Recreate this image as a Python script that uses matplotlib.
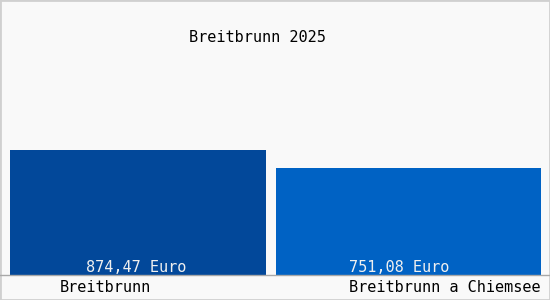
import matplotlib.pyplot as plt
from matplotlib.patches import Rectangle

# data
categories = ['Breitbrunn', 'Breitbrunn a Chiemsee']
values = [874.47, 751.08]
value_labels = ['874,47 Euro', '751,08 Euro']
title = 'Breitbrunn 2025'
colors = ['#02489a', '#0062c4']

plt.rcParams['font.family'] = ['DejaVu Sans Mono']

W, H = 550, 300
base = 275  # pixel row of the baseline
fig = plt.figure(figsize=(W / 100, H / 100), dpi=100, facecolor='#f9f9f9')
fig.patches.append(Rectangle((0, 0), 1, 1, transform=fig.transFigure,
                             fill=False, edgecolor='#d0d0d0', linewidth=2))

# axes spans full width (pixel x), baseline at row 275, 125 px for first bar
ax = fig.add_axes([0, (H - base) / H, 1, 250 / H])
ax.set_facecolor('#f9f9f9')
ax.set_xlim(0, W)
ax.set_ylim(0, values[0] * 2)
lefts = [10, 276]
widths = [256, 265]
ax.bar(lefts, values, width=widths, align='edge', color=colors)
offs = [-2, -9]
for l, w, o, lab in zip(lefts, widths, offs, value_labels):
    ax.text(l + w / 2 + o, 0, lab, ha='center', va='bottom', color='#f0f0f0', fontsize=11)
for s in ax.spines.values():
    s.set_visible(False)
ax.set_xticks([])
ax.set_yticks([])

# baseline across the figure
fig.add_artist(plt.Line2D([0, 1], [(H - base) / H] * 2, color='#a8a8a8', lw=1))

fig.text(257 / W, 1 - 38 / H, title, ha='center', va='center', fontsize=11)
fig.text(105 / W, 1 - 288 / H, categories[0], ha='center', va='center', fontsize=11)
fig.text(445 / W, 1 - 288 / H, categories[1], ha='center', va='center', fontsize=11)

fig.savefig('out.png', dpi=100, facecolor=fig.get_facecolor())
